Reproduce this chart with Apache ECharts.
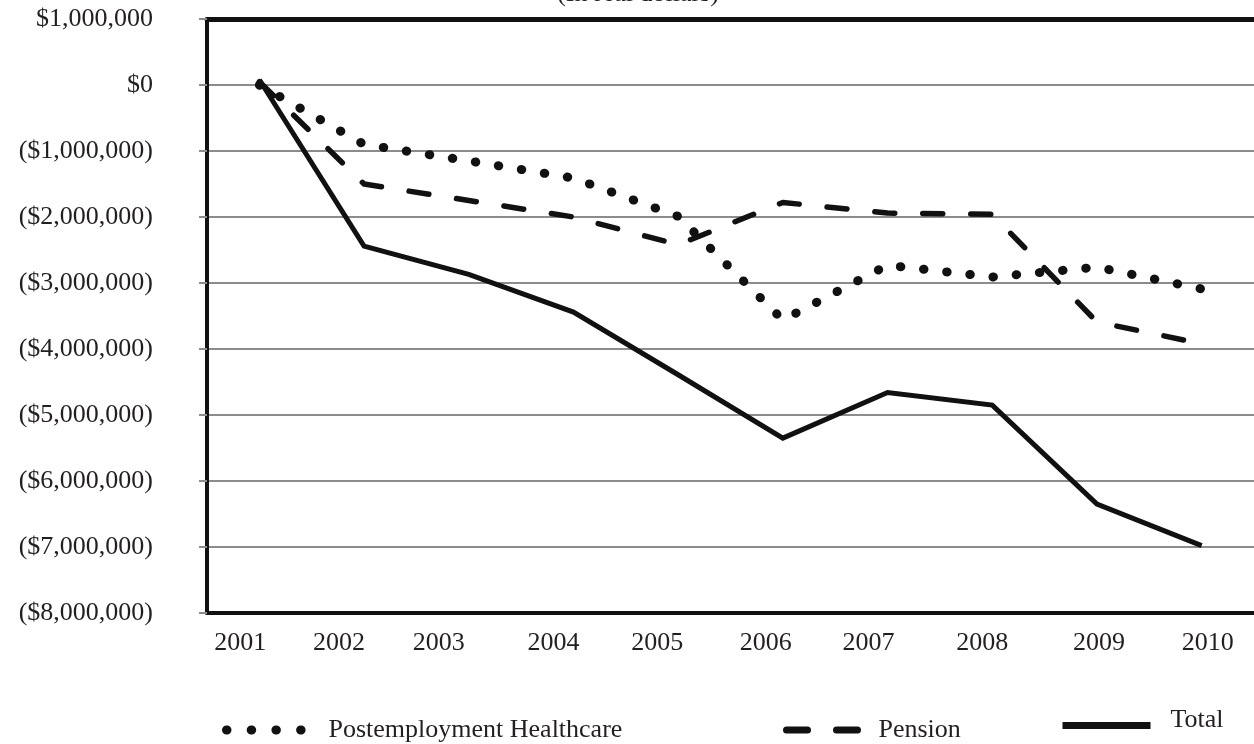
<!DOCTYPE html>
<html>
<head>
<meta charset="utf-8">
<script src="https://cdn.jsdelivr.net/npm/echarts@6/dist/echarts.min.js"></script>
<style>
  html, body { margin: 0; padding: 0; background: #ffffff; }
  #chart { width: 1254px; height: 744px; }
</style>
</head>
<body>
<div id="chart"></div>
<script>
// Fiscal years on the horizontal axis
const years = ['2001', '2002', '2003', '2004', '2005', '2006', '2007', '2008', '2009', '2010'];

// Net position by component, in dollars
const healthcare = [0, -900000, -1150000, -1410000, -1990000, -3560000, -2730000, -2910000, -2760000, -3090000];
const pension = [50000, -1500000, -1750000, -2000000, -2420000, -1780000, -1940000, -1960000, -3590000, -3920000];
const total = [80000, -2440000, -2870000, -3440000, -4390000, -5350000, -4660000, -4850000, -6350000, -6980000];

// Vertical scale
const yMin = -8000000;
const yMax = 1000000;
const yStep = 1000000;

const seriesNames = ['Postemployment Healthcare', 'Pension', 'Total'];
const subtitle = '(In real dollars)';

// Label styling
const FONT = '"Liberation Serif", "DejaVu Serif", serif';
const FS = 26;
const INK = '#231f20';
const LINE = '#111111';
const GRID_GRAY = '#8c8c8c';
// horizontal nudge of each year label, in px
const yearNudge = [-19, -25, -30, -20, -21, -17, -19, -10, 2, 6];

function withCommas(n) {
  return String(n).replace(/\B(?=(\d{3})+(?!\d))/g, ',');
}
function money(v) {
  const s = withCommas(Math.abs(v));
  return v < 0 ? '($' + s + ')' : '$' + s;
}

const yearRich = {};
yearNudge.forEach(function (d, i) {
  yearRich['y' + i] = {
    fontFamily: FONT, fontSize: FS, color: INK,
    padding: d < 0 ? [0, -2 * d, 0, 0] : [0, 0, 0, 2 * d]
  };
});

// legend swatches show only the stroke, no marker
const noMarker = { color: 'transparent', borderColor: 'transparent', borderWidth: 0, opacity: 0 };

const chart = echarts.init(document.getElementById('chart'), null, { renderer: 'canvas' });

chart.setOption({
  animation: false,
  backgroundColor: '#ffffff',
  title: {
    text: subtitle,
    left: 638,
    textAlign: 'center',
    top: -19,
    padding: 0,
    textStyle: { fontFamily: FONT, fontSize: FS, fontWeight: 'normal', color: INK }
  },
  grid: { left: 207, top: 19, width: 1058, bottom: 131, containLabel: false },
  xAxis: [
    {
      type: 'category',
      data: years,
      boundaryGap: true,
      axisLine: { show: true, onZero: false, lineStyle: { color: LINE, width: 4 } },
      axisTick: { show: false },
      splitLine: { show: false },
      axisLabel: {
        margin: 17,
        interval: 0,
        formatter: function (value, index) { return '{y' + index + '|' + value + '}'; },
        rich: yearRich
      }
    },
    {
      type: 'category',
      data: years,
      position: 'top',
      boundaryGap: true,
      axisLine: { show: true, onZero: false, lineStyle: { color: LINE, width: 5 } },
      axisTick: { show: false },
      axisLabel: { show: false },
      splitLine: { show: false }
    }
  ],
  yAxis: {
    type: 'value',
    min: yMin,
    max: yMax,
    interval: yStep,
    axisLine: { show: true, onZero: false, lineStyle: { color: LINE, width: 4 } },
    axisTick: { show: true, length: 8, lineStyle: { color: GRID_GRAY, width: 2 } },
    splitLine: { show: true, lineStyle: { color: GRID_GRAY, width: 2 } },
    axisLabel: {
      margin: 54,
      formatter: money,
      fontFamily: FONT,
      fontSize: FS,
      color: INK
    }
  },
  legend: [
    {
      data: [seriesNames[0]],
      left: 222, top: 717, padding: 0,
      itemWidth: 76, itemHeight: 14,
      itemStyle: noMarker,
      lineStyle: { type: [0.5, 24.2], width: 9, cap: 'round', color: LINE },
      textStyle: { fontFamily: FONT, fontSize: FS, color: INK, padding: [0, 0, 0, 21] }
    },
    {
      data: [seriesNames[1]],
      left: 783, top: 717, padding: 0,
      itemWidth: 74, itemHeight: 14,
      itemStyle: noMarker,
      lineStyle: { type: [21, 29], width: 7, cap: 'round', color: LINE },
      textStyle: { fontFamily: FONT, fontSize: FS, color: INK, padding: [0, 0, 0, 13] }
    },
    {
      data: [seriesNames[2]],
      left: 1059, top: 707, padding: 0,
      itemWidth: 88, itemHeight: 14,
      itemStyle: noMarker,
      lineStyle: { type: 'solid', width: 7, cap: 'butt', color: LINE },
      formatter: function (name) { return '{raised|' + name + '}'; },
      textStyle: {
        fontFamily: FONT, fontSize: FS, color: INK,
        rich: { raised: { fontFamily: FONT, fontSize: FS, color: INK, padding: [0, 0, 11, 15] } }
      }
    }
  ],
  series: [
    {
      name: seriesNames[0],
      type: 'line',
      data: healthcare,
      symbol: 'none',
      color: LINE,
      lineStyle: { color: LINE, width: 9, type: [0.5, 22.8], cap: 'round', join: 'round' },
      z: 2
    },
    {
      name: seriesNames[1],
      type: 'line',
      data: pension,
      symbol: 'none',
      color: LINE,
      lineStyle: { color: LINE, width: 5.5, type: [20, 28], cap: 'round', join: 'round' },
      z: 3
    },
    {
      name: seriesNames[2],
      type: 'line',
      data: total,
      symbol: 'none',
      color: LINE,
      lineStyle: { color: LINE, width: 5, type: 'solid', join: 'miter' },
      z: 4
    }
  ]
});
</script>
</body>
</html>
